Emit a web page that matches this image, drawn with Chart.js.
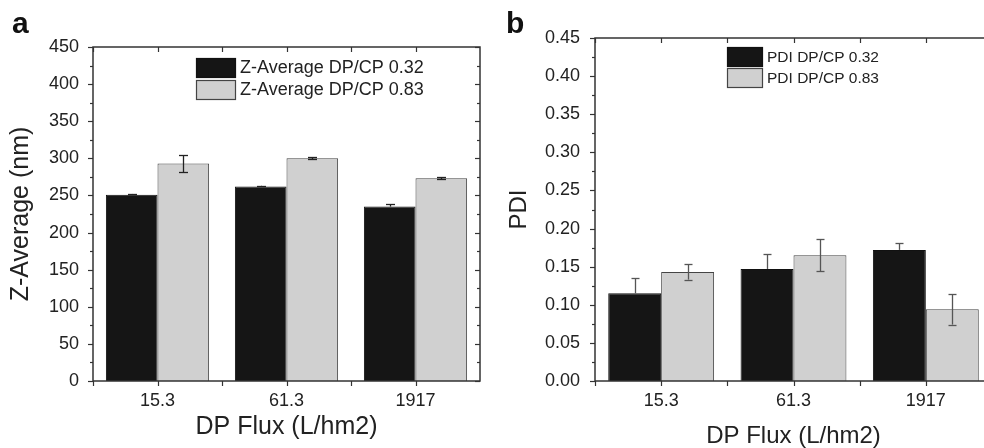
<!DOCTYPE html>
<html>
<head>
<meta charset="utf-8">
<script src="https://cdn.jsdelivr.net/npm/chart.js@4.4.0/dist/chart.umd.min.js"></script>
<style>
  html, body { margin: 0; padding: 0; background: #fff; overflow: hidden; }
  #wrap { position: relative; width: 984px; height: 448px; overflow: hidden; }
  #chart-a { position: absolute; left: 0; top: 0; }
  #chart-b { position: absolute; left: 490px; top: 0; }
  .tag { position: absolute; font: bold 30px "Liberation Sans", Arial, sans-serif; color: #111; }
</style>
</head>
<body>
<div id="wrap">
  <canvas id="chart-a" width="490" height="448"></canvas>
  <canvas id="chart-b" width="510" height="460"></canvas>
  <div class="tag" style="left:12px; top:6px;">a</div>
  <div class="tag" style="left:506px; top:6px;">b</div>
</div>
<script>
// Data
const categories = ['15.3', '61.3', '1917'];

const zAvgLow = [251, 262, 235];      // DP/CP 0.32
const zAvgLowErr = [1, 1, 3];
const zAvgHigh = [293, 300, 273];     // DP/CP 0.83
const zAvgHighErr = [11.5, 1.5, 1.5];

const pdiLow = [0.115, 0.147, 0.172];
const pdiLowErr = [0.02, 0.019, 0.009];
const pdiHigh = [0.143, 0.165, 0.094];
const pdiHighErr = [0.01, 0.021, 0.02];

const zAxis = { min: 0, max: 450, step: 50 };
const pdiAxis = { min: 0, max: 0.45, step: 0.05 };

const FONT = '"Liberation Sans", Arial, sans-serif';
const TEXT = '#222';
const DARK = '#151515';
const LIGHT = '#d0d0d0';

Chart.defaults.font.family = FONT;
Chart.defaults.color = TEXT;

function hline(ctx, x1, x2, y) {
  ctx.beginPath(); ctx.moveTo(x1, y); ctx.lineTo(x2, y); ctx.stroke();
}
function vline(ctx, x, y1, y2) {
  ctx.beginPath(); ctx.moveTo(x, y1); ctx.lineTo(x, y2); ctx.stroke();
}

// error bars taken from dataset.errors, placed with the y scale
// (on the dark bars the lower half disappears into the fill, so only the top half shows)
const errorBarPlugin = {
  id: 'errorBars',
  afterDatasetsDraw(chart, args, opts) {
    const { ctx, scales: { y } } = chart;
    ctx.save();
    ctx.strokeStyle = opts.color;
    ctx.lineWidth = 1.3;
    chart.data.datasets.forEach((ds, di) => {
      const meta = chart.getDatasetMeta(di);
      meta.data.forEach((bar, i) => {
        const v = ds.data[i], e = ds.errors[i];
        const top = y.getPixelForValue(v + e);
        const bot = ds.upperOnly ? y.getPixelForValue(v) : y.getPixelForValue(v - e);
        const x = Math.round(bar.x) + 0.5;
        vline(ctx, x, top, bot);
        hline(ctx, x - opts.cap / 2, x + opts.cap / 2, Math.round(top) + 0.5);
        if (!ds.upperOnly) hline(ctx, x - opts.cap / 2, x + opts.cap / 2, Math.round(bot) + 0.5);
      });
    });
    ctx.restore();
  }
};

// box frame with major/minor ticks
const framePlugin = {
  id: 'frame',
  afterDatasetsDraw(chart, args, opts) {
    const { ctx, chartArea: a, scales: { x, y } } = chart;
    ctx.save();
    ctx.strokeStyle = '#333';
    ctx.lineWidth = 1.5;
    ctx.strokeRect(a.left, a.top, a.right - a.left, a.bottom - a.top);
    ctx.lineWidth = 1.2;
    const step = opts.step;
    const n = Math.round((y.max - y.min) / (step / 2));
    for (let k = 0; k <= n; k++) {
      const v = y.min + k * step / 2;
      const py = Math.round(y.getPixelForValue(v)) + 0.5;
      const len = k % 2 === 0 ? 5 : 3;
      hline(ctx, a.left - len, a.left, py);
      hline(ctx, a.right - len, a.right, py);
    }
    for (let i = 0; i < categories.length; i++) {
      const c = Math.round(x.getPixelForValue(i)) + 0.5;
      const b = Math.round(x.getPixelForValue(i - 0.5)) + 0.5;
      vline(ctx, c, a.bottom, a.bottom + 5);
      vline(ctx, b, a.bottom, a.bottom + 5);
      vline(ctx, c, a.top, a.top + 5);
      vline(ctx, b, a.top, a.top + 5);
    }
    ctx.restore();
  }
};

// legend drawn inside the plot box
const boxLegendPlugin = {
  id: 'boxLegend',
  afterDraw(chart, args, opts) {
    const { ctx } = chart;
    ctx.save();
    ctx.font = opts.size + 'px ' + FONT;
    ctx.textBaseline = 'middle';
    chart.data.datasets.forEach((ds, i) => {
      const top = opts.y + i * opts.rowGap;
      ctx.fillStyle = ds.backgroundColor;
      ctx.fillRect(opts.x, top, opts.boxW, opts.boxH);
      ctx.strokeStyle = ds.borderColor;
      ctx.lineWidth = 1.2;
      ctx.strokeRect(opts.x + 0.5, top + 0.5, opts.boxW, opts.boxH);
      ctx.fillStyle = TEXT;
      ctx.fillText(ds.label, opts.x + opts.boxW + 5, top + opts.boxH / 2 + 1);
    });
    ctx.restore();
  }
};

function makeChart(id, cfg) {
  return new Chart(document.getElementById(id), {
    type: 'bar',
    data: {
      labels: categories,
      datasets: [
        { label: cfg.labels[0], data: cfg.low, errors: cfg.lowErr, upperOnly: true,
          backgroundColor: DARK, borderColor: '#111', borderWidth: 1 },
        { label: cfg.labels[1], data: cfg.high, errors: cfg.highErr,
          backgroundColor: LIGHT, borderColor: '#444', borderWidth: 1 }
      ]
    },
    options: {
      responsive: false,
      animation: false,
      devicePixelRatio: 1,
      layout: { padding: { top: cfg.top, right: cfg.right, left: 0, bottom: 0 } },
      datasets: { bar: { categoryPercentage: 0.8, barPercentage: 1.0 } },
      plugins: {
        legend: { display: false },
        tooltip: { enabled: false },
        errorBars: { color: cfg.errColor, cap: cfg.cap },
        frame: { step: cfg.axis.step },
        boxLegend: cfg.legend
      },
      scales: {
        x: {
          grid: { display: false, drawTicks: false },
          border: { display: false },
          ticks: { padding: 9, color: TEXT, font: { size: 18 } },
          title: { display: true, text: 'DP Flux (L/hm2)', color: TEXT,
                   font: { size: cfg.titleSize }, padding: { top: 0, bottom: cfg.xTitlePad } },
          afterFit(s) { s.height = cfg.xHeight; }
        },
        y: {
          min: cfg.axis.min, max: cfg.axis.max,
          grid: { display: false, drawTicks: false },
          border: { display: false },
          ticks: { stepSize: cfg.axis.step, padding: cfg.yPad, color: TEXT, font: { size: 18 },
                   callback: cfg.fmt },
          title: { display: true, text: cfg.yTitle, color: TEXT,
                   font: { size: cfg.titleSize }, padding: { top: cfg.yTitlePad, bottom: 0 } },
          afterFit(s) { s.width = cfg.yWidth; }
        }
      }
    },
    plugins: [errorBarPlugin, framePlugin, boxLegendPlugin]
  });
}

makeChart('chart-a', {
  labels: ['Z-Average DP/CP 0.32', 'Z-Average DP/CP 0.83'],
  low: zAvgLow, lowErr: zAvgLowErr, high: zAvgHigh, highErr: zAvgHighErr,
  axis: zAxis, yTitle: 'Z-Average (nm)', fmt: v => v,
  top: 47, right: 10, yWidth: 93, xHeight: 67, yPad: 14,
  titleSize: 25, xTitlePad: 6, yTitlePad: 6,
  errColor: '#222', cap: 9,
  legend: { x: 196, y: 58, rowGap: 22, boxW: 39, boxH: 19, size: 18 }
});

makeChart('chart-b', {
  labels: ['PDI DP/CP 0.32', 'PDI DP/CP 0.83'],
  low: pdiLow, lowErr: pdiLowErr, high: pdiHigh, highErr: pdiHighErr,
  axis: pdiAxis, yTitle: 'PDI', fmt: v => Number(v).toFixed(2),
  top: 38, right: 8, yWidth: 105, xHeight: 79, yPad: 15,
  titleSize: 24, xTitlePad: 9, yTitlePad: 15,
  errColor: '#555', cap: 8,
  legend: { x: 237, y: 47, rowGap: 21, boxW: 35, boxH: 19, size: 15.5 }
});
</script>
</body>
</html>
